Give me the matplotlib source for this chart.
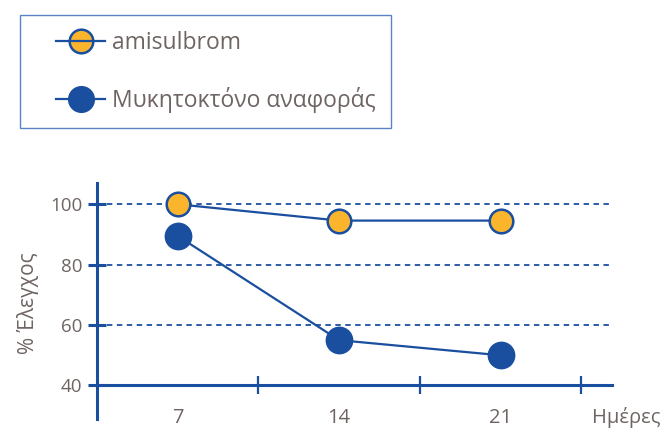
import matplotlib
matplotlib.use('Agg')
import matplotlib.pyplot as plt
from matplotlib.lines import Line2D
from matplotlib.patches import Rectangle
from matplotlib.legend_handler import HandlerTuple

plt.rcParams['font.family'] = ['Open Sans', 'DejaVu Sans']

days = ['7', '14', '21']
amisulbrom = [100, 94.6, 94.6]
reference = [89.5, 55, 50]
yticks = [40, 60, 80, 100]
gridvals = [60, 80, 100]

blue = '#1a4f9f'
yellow = '#fbb52d'
grey = '#6e6563'

W, H = 669, 428
fig = plt.figure(figsize=(W / 100, H / 100), dpi=100)
ax = fig.add_axes([97 / W, 1 - 419 / H, (612 - 97) / W, (419 - 183) / H])

xpos = [i + 0.5 for i in range(len(days))]

for g in gridvals:
    ax.axhline(g, color=blue, lw=1.3, ls=(0, (3, 2.5)), zorder=1)

ax.plot(xpos, reference, color=blue, lw=1.6, marker='o', ms=18.5,
        mfc=blue, mec=blue, mew=1.5, zorder=3)
ax.plot(xpos, amisulbrom, color=blue, lw=1.6, marker='o', ms=17,
        mfc=yellow, mec=blue, mew=1.8, zorder=4)

ax.set_xlim(0, 3.19)
ax.set_ylim(28.9, 107.05)

for s in ['top', 'right']:
    ax.spines[s].set_visible(False)
ax.spines['bottom'].set_position(('data', 40))
for s in ['left', 'bottom']:
    ax.spines[s].set_color(blue)
    ax.spines[s].set_linewidth(2.2)

ax.set_yticks(yticks)
ax.tick_params(axis='y', direction='inout', length=13, width=2.2, color=blue,
               labelsize=13.5, labelcolor=grey, pad=4)

ax.set_xticks([1, 2, 3])
ax.set_xticklabels([])
ax.set_xticks(xpos, minor=True)
ax.set_xticklabels(days, minor=True)
ax.tick_params(axis='x', which='major', direction='inout', length=13, width=1.6, color=blue)
ax.tick_params(axis='x', which='minor', length=0, labelsize=14.5, labelcolor=grey, pad=16.5)

fig.text(592 / W, 1 - 417 / H, 'Ημέρες', fontsize=14.5, color=grey, ha='left', va='center')
fig.text(28 / W, 1 - 303 / H, '% Έλεγχος', fontsize=15, color=grey, rotation=90,
         ha='center', va='center')

# legend
fig.patches.append(Rectangle((20 / W, 1 - 128 / H), (391 - 20) / W, (128 - 15) / H,
                             transform=fig.transFigure, fill=False,
                             edgecolor='#5b84c8', lw=1.0))
h1 = (Line2D([], [], ls='none', marker='o', ms=17, mfc=yellow, mec=blue, mew=1.8),
      Line2D([], [], color=blue, lw=1.6))
h2 = (Line2D([], [], color=blue, lw=1.6),
      Line2D([], [], ls='none', marker='o', ms=18.5, mfc=blue, mec=blue))
leg = fig.legend([h1, h2], ['amisulbrom', 'Μυκητοκτόνο αναφοράς'],
                 handler_map={tuple: HandlerTuple(ndivide=1)},
                 loc='center left', bbox_to_anchor=(56 / W, 1 - 72 / H),
                 frameon=False, fontsize=16.5, handlelength=2.15, handletextpad=0.28,
                 labelspacing=1.38, borderpad=0, borderaxespad=0)
for t in leg.get_texts():
    t.set_color(grey)

fig.savefig('out.png', dpi=100)
